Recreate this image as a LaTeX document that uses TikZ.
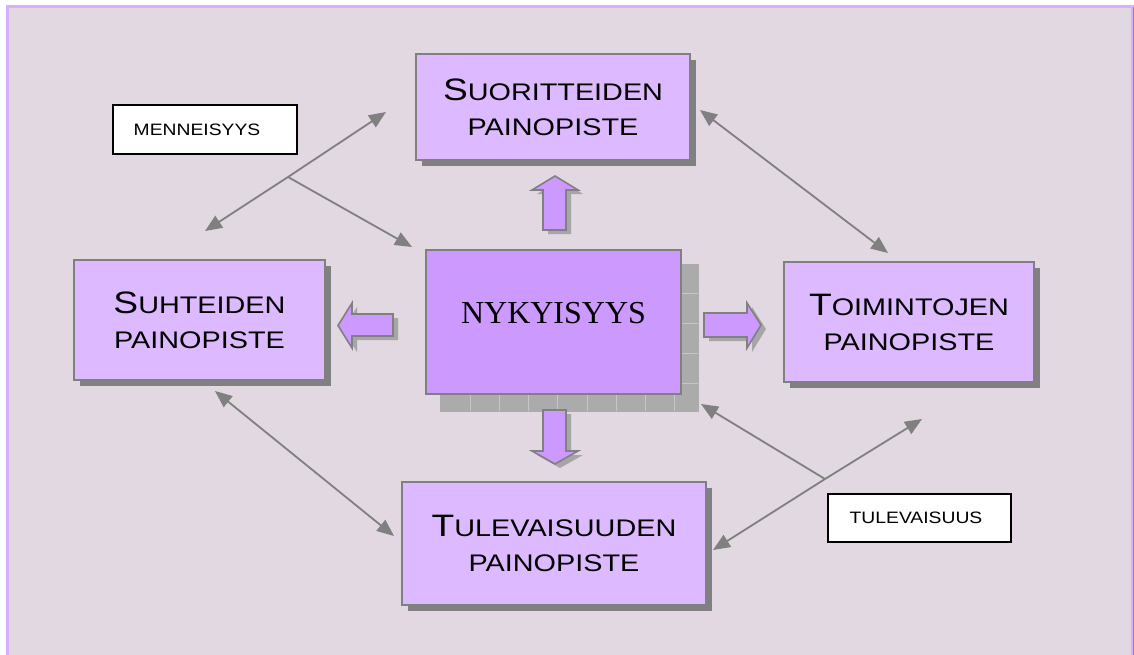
\documentclass[tikz,border=0pt]{standalone}
\usepackage{fontspec}
\setmainfont{Liberation Serif}
\newfontfamily\capsfont[FakeStretch=1.2]{Liberation Sans}
\newfontfamily\tagfont[FakeStretch=1.17]{Liberation Sans}
\usetikzlibrary{arrows.meta,calc,shadows}

\definecolor{pagebg}{HTML}{E1D8E1}
\definecolor{framec}{HTML}{D6B0FA}
\definecolor{framedark}{HTML}{9E7CBE}
\definecolor{boxfill}{HTML}{DDB9FF}
\definecolor{corefill}{HTML}{CC99FF}
\definecolor{edgegray}{HTML}{808080}
\definecolor{coreshadow}{HTML}{ABABAB}
\definecolor{coregrid}{HTML}{C6C6C6}
\definecolor{softshadow}{HTML}{A6A6A6}

% larger first letter of a small-caps word
\newcommand\initial[1]{{\fontsize{31}{35}\selectfont #1}}

\pgfdeclarelayer{under}
\pgfsetlayers{under,main}

\tikzset{
  focus/.style={draw=edgegray, line width=2pt, fill=boxfill, inner sep=0pt,
    align=center, font=\capsfont\fontsize{24}{35}\selectfont,
    drop shadow={shadow xshift=6pt, shadow yshift=-6pt, fill=edgegray, opacity=1}},
  core/.style={draw=edgegray, line width=2pt, fill=corefill, inner sep=0pt,
    font=\fontsize{32}{36}\selectfont, text height=23pt, text depth=21pt},
  tag/.style={draw=black, line width=1.6pt, fill=white, inner sep=0pt,
    font=\tagfont\fontsize{16.5}{20}\selectfont},
  link/.style={draw=edgegray, line width=1.8pt},
  tip/.style={-{Triangle[length=17pt,width=14pt]}},
  twotip/.style={{Triangle[length=17pt,width=14pt]}-{Triangle[length=17pt,width=14pt]}},
  blockarrow/.style={draw=edgegray, line width=1.6pt, fill=corefill, line join=miter,
    drop shadow={shadow xshift=5pt, shadow yshift=-4pt, fill=softshadow, opacity=1}},
}

\begin{document}
\begin{tikzpicture}[x=1pt, y=-1pt]
  \useasboundingbox (0,0) rectangle (1134,655);

  % page and frame
  \begin{pgfonlayer}{under}
    \fill[white] (0,0) rectangle (1134,655);
    \fill[pagebg] (7,7) rectangle (1132,660);
    \draw[framec, line width=3pt] (7,7) rectangle (1132,660);
    \draw[framedark, line width=0.8pt] (1133.4,7) -- (1133.4,660);
  \end{pgfonlayer}

  % boxes
  \node[focus, minimum width=274pt, minimum height=106pt] (sui) at (553,107)
    {\initial{S}UORITTEIDEN\\PAINOPISTE};
  \node[focus, minimum width=251pt, minimum height=120pt] (suh) at (199.5,320)
    {\initial{S}UHTEIDEN\\PAINOPISTE};
  \node[focus, minimum width=250pt, minimum height=120pt] (toim) at (909,322)
    {\initial{T}OIMINTOJEN\\PAINOPISTE};
  \node[focus, minimum width=304pt, minimum height=123pt] (tul) at (554,543.5)
    {\initial{T}ULEVAISUUDEN\\PAINOPISTE};
  \node[core, minimum width=255pt, minimum height=144pt] (nyk) at (553.5,322)
    {NYKYISYYS};

  % tiled shadow of the central box
  \begin{pgfonlayer}{under}
    \fill[coreshadow] ([shift={(15,15)}]nyk.north west) rectangle ([shift={(17,17)}]nyk.south east);
    \foreach \gx in {470,499.2,...,690} {
      \draw[coregrid, line width=0.6pt] (\gx,394) -- (\gx,411);
    }
    \foreach \gy in {293,323,353,383} {
      \draw[coregrid, line width=0.6pt] (681,\gy) -- (698,\gy);
    }
  \end{pgfonlayer}

  % labels
  \node[tag, minimum width=184pt, minimum height=49pt] (past) at (205,129.5)
    {MENNEISYYS\hspace*{16pt}};
  \node[tag, minimum width=183pt, minimum height=48pt] (future) at (919.5,518)
    {TULEVAISUUS\hspace*{7pt}};

  % block arrows out of the centre
  \draw[blockarrow] (543,230) -- (543,190) -- (532,190) -- (555,176) -- (578,190)
    -- (566,190) -- (566,230) -- cycle;
  \draw[blockarrow] (543,410) -- (566,410) -- (566,451) -- (578,451) -- (555,464)
    -- (532,451) -- (543,451) -- cycle;
  \draw[blockarrow] (393,314) -- (352,314) -- (352,303) -- (338,325.5) -- (352,348)
    -- (352,336) -- (393,336) -- cycle;
  \draw[blockarrow] (704,313) -- (747,313) -- (747,303) -- (761,325) -- (747,348)
    -- (747,337) -- (704,337) -- cycle;

  % crossing arrows of the past
  \coordinate (mj) at (288,177);
  \coordinate (m1) at ([shift={(-29,5)}]sui.west);
  \coordinate (m2) at ([shift={(5.5,-28)}]suh.north);
  \coordinate (m3) at ([shift={(-13,-2)}]nyk.north west);
  \draw[link, tip] (mj) -- (m1);
  \draw[link, tip] (mj) -- (m2);
  \draw[link, tip] (mj) -- (m3);

  % crossing arrows of the future
  \coordinate (tj) at (825,479);
  \coordinate (t1) at ([shift={(13,36)}]toim.south);
  \coordinate (t2) at ([shift={(6,6.5)}]tul.east);
  \coordinate (t3) at ([shift={(19,9)}]nyk.south east);
  \draw[link, tip] (tj) -- (t1);
  \draw[link, tip] (tj) -- (t2);
  \draw[link, tip] (tj) -- (t3);

  % two-way links between outer boxes
  \draw[link, twotip] ([shift={(9,3)}]sui.east) -- ([shift={(-21,-8)}]toim.north);
  \draw[link, twotip] ([shift={(15.5,10)}]suh.south) -- ([shift={(-7,-7.5)}]tul.west);
\end{tikzpicture}
\end{document}
